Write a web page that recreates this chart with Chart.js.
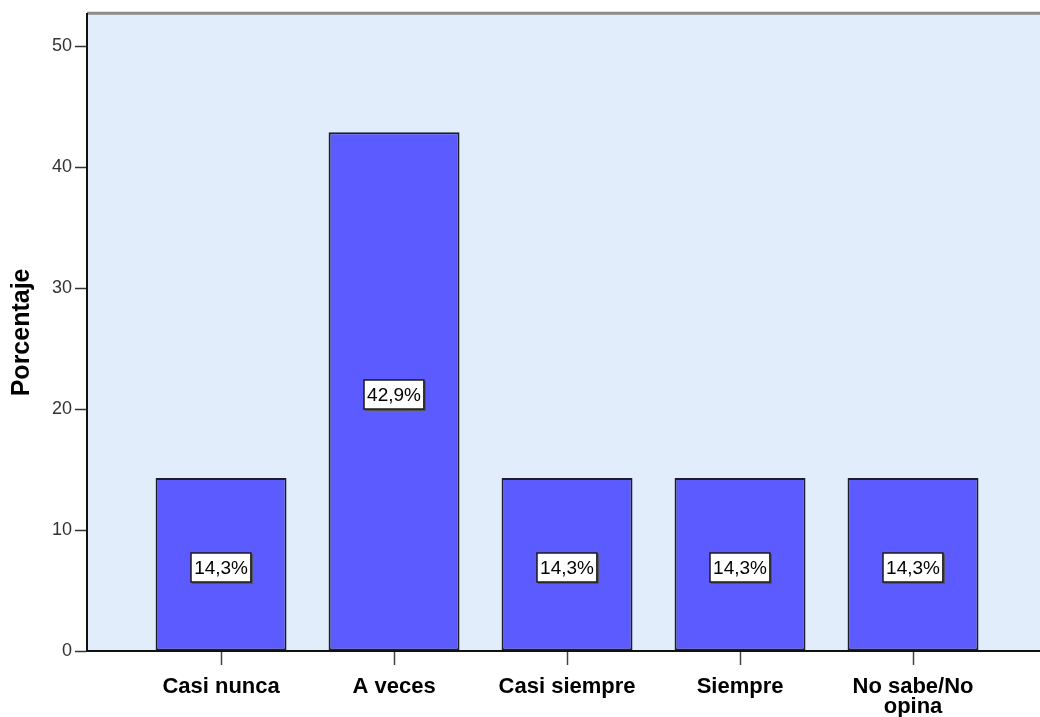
<!DOCTYPE html>
<html lang="es">

<head>
    <meta charset="utf-8" />
    <title>Porcentaje</title>
    <style>
        html,
        body {
            margin: 0;
            padding: 0;
            background: #fff;
            overflow: hidden;
        }

        .chart-box {
            width: 1040px;
            height: 717px;
        }
    </style>
</head>

<body>
    <div class="chart-box">
        <canvas id="mychart"></canvas>
    </div>
    <script src="https://cdn.jsdelivr.net/npm/chart.js@4.4.1/dist/chart.umd.min.js"></script>
    <script>
        // categorias (eje x)
        const categories = ['Casi nunca', 'A veces', 'Casi siempre', 'Siempre', ['No sabe/No', 'opina']];
        // porcentajes
        const percents = [14.3, 42.9, 14.3, 14.3, 14.3];
        // marcas del eje y
        const yTicks = [0, 10, 20, 30, 40, 50];

        const points = [];
        for (let i = 0; i < percents.length; i++) {
            points.push({ x: i, y: percents[i] });
        }

        // fondo del area del grafico y borde superior
        const plotBg = {
            id: 'plotBg',
            beforeDraw(chart) {
                const { ctx, chartArea: a } = chart;
                ctx.save();
                ctx.fillStyle = '#e1edfa';
                ctx.fillRect(a.left, a.top, a.right - a.left, a.bottom - a.top);
                ctx.strokeStyle = '#8c8c8c';
                ctx.lineWidth = 3;
                ctx.beginPath();
                ctx.moveTo(a.left, a.top - 0.5);
                ctx.lineTo(a.right, a.top - 0.5);
                ctx.stroke();
                ctx.restore();
            }
        };

        // etiquetas de valor en el centro de cada barra
        const barLabels = {
            id: 'barLabels',
            afterDatasetsDraw(chart) {
                const { ctx } = chart;
                const meta = chart.getDatasetMeta(0);
                ctx.save();
                ctx.font = '19px "Liberation Sans", Arial, sans-serif';
                ctx.textAlign = 'center';
                ctx.textBaseline = 'middle';
                meta.data.forEach((bar, i) => {
                    const txt = percents[i].toFixed(1).replace('.', ',') + '%';
                    const cy = (bar.y + bar.base) / 2 + 3;
                    const w = ctx.measureText(txt).width + 6;
                    const h = 29;
                    const x0 = Math.round(bar.x - w / 2);
                    const y0 = Math.round(cy - h / 2);
                    ctx.fillStyle = '#555';
                    ctx.fillRect(x0 + 1, y0 + 1, w + 1, h + 1);
                    ctx.fillStyle = '#fff';
                    ctx.fillRect(x0, y0, w, h);
                    ctx.strokeStyle = '#1a1a1a';
                    ctx.lineWidth = 1.5;
                    ctx.strokeRect(x0, y0, w, h);
                    ctx.fillStyle = '#000';
                    ctx.fillText(txt, bar.x, cy + 1);
                });
                ctx.restore();
            }
        };

        new Chart(document.getElementById('mychart'), {
            type: 'bar',
            data: {
                datasets: [{
                    label: 'Porcentaje',
                    data: points,
                    backgroundColor: '#5b5bff',
                    borderColor: '#1e1e2a',
                    borderWidth: 2,
                    borderSkipped: false,
                    barPercentage: 0.757,
                    categoryPercentage: 1,
                }],
            },
            options: {
                responsive: true,
                maintainAspectRatio: false,
                animation: false,
                layout: {
                    padding: { top: 11, left: 0, right: 0, bottom: 0 }
                },
                plugins: {
                    legend: { display: false },
                    tooltip: { enabled: false },
                },
                scales: {
                    x: {
                        type: 'linear',
                        offset: false,
                        min: -0.775,
                        max: 4.734,
                        afterFit(scale) { scale.height = 66; },
                        afterBuildTicks(scale) {
                            scale.ticks = categories.map((c, i) => ({ value: i }));
                        },
                        ticks: {
                            includeBounds: false,
                            autoSkip: false,
                            maxRotation: 0,
                            padding: 12,
                            color: '#000',
                            font: { family: '"Liberation Sans", Arial, sans-serif', size: 22, weight: 'bold', lineHeight: 0.92 },
                            callback: (v) => categories[v],
                        },
                        grid: {
                            offset: false,
                            drawOnChartArea: false,
                            drawTicks: true,
                            tickLength: 14,
                            tickWidth: 1.5,
                            tickColor: '#444',
                        },
                        border: { color: '#111', width: 2 },
                    },
                    y: {
                        min: 0,
                        max: 52.7,
                        afterFit(scale) { scale.width = 87; },
                        afterBuildTicks(scale) {
                            scale.ticks = yTicks.map(v => ({ value: v }));
                        },
                        ticks: {
                            includeBounds: false,
                            padding: 3,
                            color: '#333',
                            font: { family: '"Liberation Sans", Arial, sans-serif', size: 18 },
                        },
                        grid: {
                            drawOnChartArea: false,
                            tickLength: 12,
                            tickWidth: 1.5,
                            tickColor: '#333',
                        },
                        border: { color: '#111', width: 2 },
                        title: {
                            display: true,
                            text: 'Porcentaje',
                            color: '#000',
                            padding: { top: 7, bottom: 0 },
                            font: { family: '"Liberation Sans", Arial, sans-serif', size: 25, weight: 'bold' },
                        },
                    },
                },
            },
            plugins: [plotBg, barLabels],
        });
    </script>
</body>

</html>
